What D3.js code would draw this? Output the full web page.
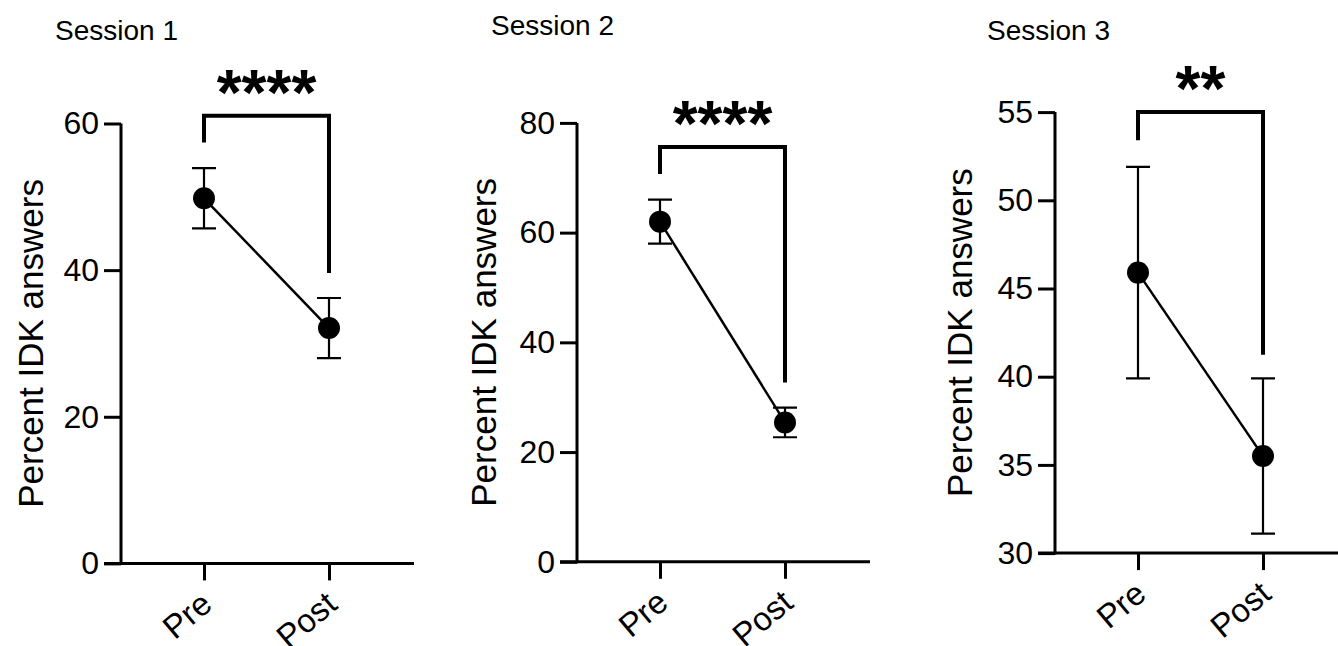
<!DOCTYPE html>
<html>
<head>
<meta charset="utf-8">
<script src="https://cdn.jsdelivr.net/npm/d3@7"></script>
<style>
  html, body { margin: 0; padding: 0; background: #fff; }
  svg { display: block; }
  text { font-family: Arial, "Liberation Sans", sans-serif; fill: #000; }
</style>
</head>
<body>
<svg id="chart" width="1338" height="646"></svg>
<script>
// ---- data ----
const sessions = ["Session 1", "Session 2", "Session 3"];
const conditions = ["Pre", "Post"];
const preMeans = [49.8, 62.0, 45.9];
const preErrors = [4.1, 4.0, 6.0];
const postMeans = [32.1, 25.4, 35.5];
const postErrors = [4.1, 2.7, 4.4];
const yDomains = [[0, 60], [0, 80], [30, 55]];
const yTicks = [[0, 20, 40, 60], [0, 20, 40, 60, 80], [30, 35, 40, 45, 50, 55]];
const sigLabels = ["****", "****", "**"];
const bracketTop = [61.05, 75.6, 55.0];
const bracketLeftEnd = [57.4, 70.7, 53.4];
const bracketRightEnd = [39.6, 32.7, 41.25];
const yLabel = "Percent IDK answers";

// ---- layout ----
const axisX = [121, 577, 1055];
const yRanges = [[563.4, 123.5], [561.8, 122.9], [553.1, 112.1]];
const titlePos = [[55, 40], [491, 35], [987, 40]];
const yLabelOffset = [-91, -94, -96];
const tickSize = 17;

const svg = d3.select("#chart");

sessions.forEach((s, i) => {
  const g = svg.append("g");
  const ax = axisX[i];
  const y = d3.scaleLinear().domain(yDomains[i]).range(yRanges[i]);
  const x = d3.scalePoint().domain(conditions).range([ax + 83, ax + 208]);
  const y0 = yRanges[i][0];

  // title
  g.append("text").attr("x", titlePos[i][0]).attr("y", titlePos[i][1])
    .attr("font-size", 28).attr("fill", "#111").text(s);

  // y axis
  const yAxis = d3.axisLeft(y).tickValues(yTicks[i]).tickSize(tickSize).tickPadding(5).tickFormat(d3.format("d"));
  const ya = g.append("g").attr("transform", `translate(${ax},0)`).call(yAxis);
  ya.select(".domain").attr("stroke", "#000").attr("stroke-width", 3)
    .attr("d", `M0,${y0 + 1.5}V${yRanges[i][1]}`);
  ya.selectAll(".tick line").attr("stroke", "#000").attr("stroke-width", 3);
  ya.selectAll(".tick text").attr("font-size", 32).attr("fill", "#000")
    .attr("font-family", "Arial, 'Liberation Sans', sans-serif");

  // x axis
  const xAxis = d3.axisBottom(x).tickSize(tickSize).tickPadding(0).tickFormat("");
  const xa = g.append("g").attr("transform", `translate(0,${y0})`).call(xAxis);
  xa.select(".domain").attr("stroke", "#000").attr("stroke-width", 3)
    .attr("d", `M${ax - tickSize},0H${ax + 293}`);
  xa.selectAll(".tick line").attr("stroke", "#000").attr("stroke-width", 3);
  // rotated x labels
  g.selectAll(".xlab").data(conditions).enter().append("text")
    .attr("class", "xlab")
    .attr("text-anchor", "end")
    .attr("font-size", 33)
    .attr("transform", d => `translate(${x(d) + 10},${y0 + 44}) rotate(-40)`)
    .text(d => d);

  // y label
  const ymid = (yRanges[i][0] + yRanges[i][1]) / 2;
  g.append("text")
    .attr("transform", `translate(${ax + yLabelOffset[i]},${ymid}) rotate(-90)`)
    .attr("text-anchor", "middle").attr("dominant-baseline", "central")
    .attr("font-size", 35).text(yLabel);

  const pts = [
    { c: "Pre", m: preMeans[i], e: preErrors[i] },
    { c: "Post", m: postMeans[i], e: postErrors[i] }
  ];

  // error bars
  pts.forEach(p => {
    const cx = x(p.c);
    g.append("path")
      .attr("d", `M${cx},${y(p.m + p.e)}V${y(p.m - p.e)}M${cx - 12},${y(p.m + p.e)}H${cx + 12}M${cx - 12},${y(p.m - p.e)}H${cx + 12}`)
      .attr("stroke", "#000").attr("stroke-width", 2.2).attr("fill", "none");
  });

  // connecting line
  g.append("path").datum(pts)
    .attr("d", d3.line().x(d => x(d.c)).y(d => y(d.m)))
    .attr("stroke", "#000").attr("stroke-width", 2.5).attr("fill", "none");

  // markers
  g.selectAll("circle").data(pts).enter().append("circle")
    .attr("cx", d => x(d.c)).attr("cy", d => y(d.m)).attr("r", 11).attr("fill", "#000");

  // significance bracket
  const xl = x("Pre"), xr = x("Post");
  g.append("path")
    .attr("d", `M${xl},${y(bracketLeftEnd[i])}V${y(bracketTop[i])}H${xr}V${y(bracketRightEnd[i])}`)
    .attr("stroke", "#000").attr("stroke-width", 4).attr("fill", "none");
  g.append("text")
    .attr("x", (xl + xr) / 2).attr("y", y(bracketTop[i]) - 1)
    .attr("text-anchor", "middle").attr("font-size", 64).attr("font-weight", "bold")
    .text(sigLabels[i]);
});
</script>
</body>
</html>
